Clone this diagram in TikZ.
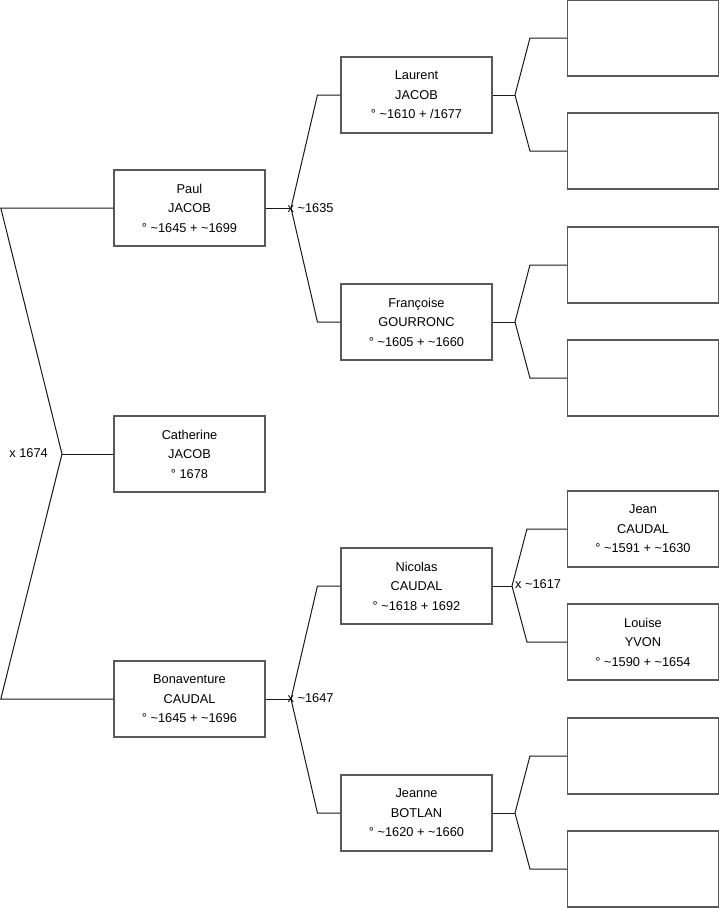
\documentclass[tikz,border=0pt]{standalone}
\usepackage{fontspec}
\setmainfont{Liberation Sans}
\usetikzlibrary{calc}
\tikzset{
  person/.style={draw=black!65, line width=1.1pt, fill=white, minimum width=151pt, minimum height=76pt,
    inner sep=0pt, align=center, font=\fontsize{12.8}{19.5}\selectfont},
  link/.style={draw=black!90, line width=1pt},
  marr/.style={font=\fontsize{12.8}{14}\selectfont, inner sep=0pt}
}
\begin{document}
\begin{tikzpicture}[x=1pt,y=-1pt]
\useasboundingbox (0,0) rectangle (719,908);
% generation 1
\node[person] (paul) at (189.5,208) {Paul\\JACOB\\° \textasciitilde1645 + \textasciitilde1699};
\node[person] (cath) at (189.5,454) {Catherine\\JACOB\\° 1678};
\node[person] (bona) at (189.5,699) {Bonaventure\\CAUDAL\\° \textasciitilde1645 + \textasciitilde1696};
% generation 2
\node[person] (laur) at (416.5,95) {Laurent\\JACOB\\° \textasciitilde1610 + /1677};
\node[person] (fran) at (416.5,322) {Françoise\\GOURRONC\\° \textasciitilde1605 + \textasciitilde1660};
\node[person] (nico) at (416.5,586) {Nicolas\\CAUDAL\\° \textasciitilde1618 + 1692};
\node[person] (jean) at (416.5,813) {Jeanne\\BOTLAN\\° \textasciitilde1620 + \textasciitilde1660};
% generation 3
\node[person] (r1) at (643,38) {};
\node[person] (r2) at (643,151) {};
\node[person] (r3) at (643,265) {};
\node[person] (r4) at (643,378) {};
\node[person] (r5) at (643,529) {Jean\\CAUDAL\\° \textasciitilde1591 + \textasciitilde1630};
\node[person] (r6) at (643,642) {Louise\\YVON\\° \textasciitilde1590 + \textasciitilde1654};
\node[person] (r7) at (643,756) {};
\node[person] (r8) at (643,869) {};
% left fork
\coordinate (j0) at (62,454);
\coordinate (pl) at (0.8,208);
\coordinate (bl) at (0.8,699);
\draw[link] (paul.west) -- (pl) -- (j0) -- (bl) -- (bona.west);
\draw[link] (j0) -- (cath.west);
\node[marr, anchor=east] (m0) at (48,453) {x 1674};
% Paul's parents
\coordinate (j1) at (291,208);
\draw[link] (paul.east) -- (j1);
\draw[link] (j1) -- ($(laur.west)+(-23,0)$) -- (laur.west);
\draw[link] (j1) -- ($(fran.west)+(-23,0)$) -- (fran.west);
\node[marr, anchor=west] (m1) at (287.5,208) {x \textasciitilde1635};
% Bonaventure's parents
\coordinate (j2) at (291,699);
\draw[link] (bona.east) -- (j2);
\draw[link] (j2) -- ($(nico.west)+(-23,0)$) -- (nico.west);
\draw[link] (j2) -- ($(jean.west)+(-23,0)$) -- (jean.west);
\node[marr, anchor=west] (m2) at (287.5,698) {x \textasciitilde1647};
% Laurent's parents
\coordinate (j3) at (515,95);
\draw[link] (laur.east) -- (j3);
\draw[link] (j3) -- ($(r1.west)+(-37,0)$) -- (r1.west);
\draw[link] (j3) -- ($(r2.west)+(-37,0)$) -- (r2.west);
% Francoise's parents
\coordinate (j4) at (515,322);
\draw[link] (fran.east) -- (j4);
\draw[link] (j4) -- ($(r3.west)+(-37,0)$) -- (r3.west);
\draw[link] (j4) -- ($(r4.west)+(-37,0)$) -- (r4.west);
% Nicolas's parents
\coordinate (j5) at (512,586);
\draw[link] (nico.east) -- (j5);
\draw[link] (j5) -- ($(r5.west)+(-40,0)$) -- (r5.west);
\draw[link] (j5) -- ($(r6.west)+(-40,0)$) -- (r6.west);
\node[marr, anchor=west] (m3) at (515,584) {x \textasciitilde1617};
% Jeanne's parents
\coordinate (j6) at (515,813);
\draw[link] (jean.east) -- (j6);
\draw[link] (j6) -- ($(r7.west)+(-37,0)$) -- (r7.west);
\draw[link] (j6) -- ($(r8.west)+(-37,0)$) -- (r8.west);
\end{tikzpicture}
\end{document}
